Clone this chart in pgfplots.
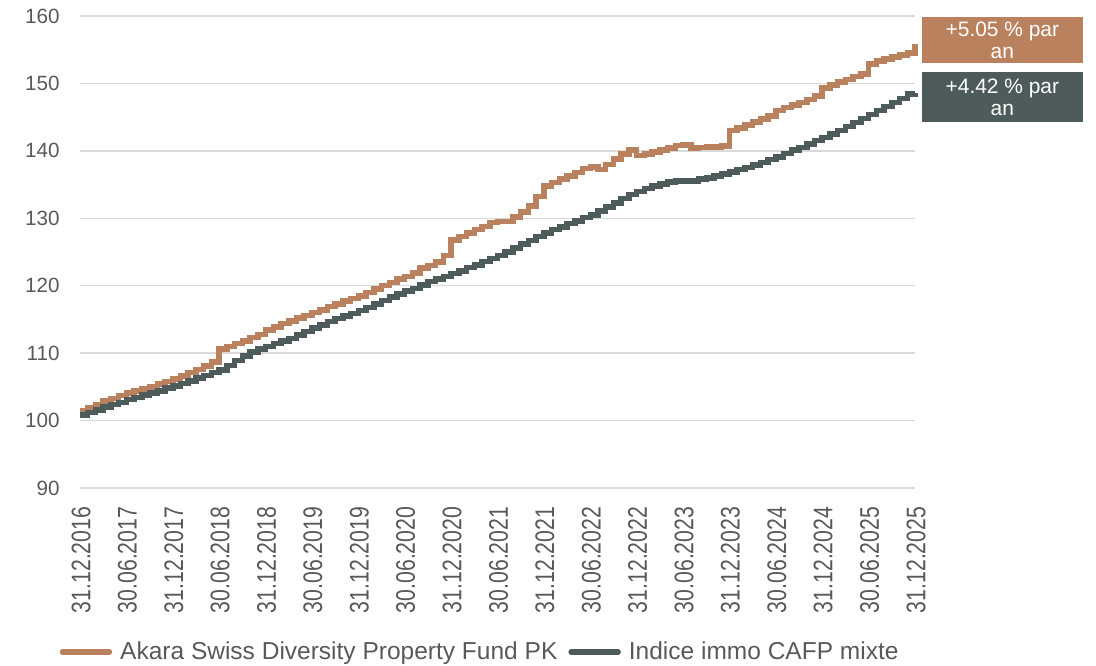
\documentclass[border=0pt]{standalone}
\usepackage{pgfplots}
\pgfplotsset{compat=1.18}
\usepackage{pgfplotstable}
\usepackage{fontspec}
\setmainfont{Liberation Sans}
\definecolor{fundc}{RGB}{186,129,95}
\definecolor{idxc}{RGB}{77,92,90}
\definecolor{txtc}{RGB}{89,89,89}
\definecolor{gridc}{RGB}{217,217,217}

\pgfplotstableread{
m v
0 101.4
1 101.9
2 102.4
3 102.9
4 103.3
5 103.7
6 104.1
7 104.4
8 104.7
9 105.0
10 105.4
11 105.8
12 106.2
13 106.6
14 107.1
15 107.6
16 108.1
17 108.7
18 110.6
19 111.0
20 111.4
21 111.8
22 112.3
23 112.8
24 113.4
25 113.9
26 114.4
27 114.8
28 115.2
29 115.6
30 116.0
31 116.4
32 116.9
33 117.3
34 117.7
35 118.1
36 118.5
37 119.0
38 119.5
39 120.0
40 120.5
41 121.0
42 121.4
43 121.9
44 122.6
45 123.0
46 123.5
47 124.5
48 126.8
49 127.3
50 127.8
51 128.3
52 128.8
53 129.4
54 129.5
55 129.5
56 130.2
57 130.9
58 131.8
59 133.2
60 134.8
61 135.3
62 135.8
63 136.3
64 136.8
65 137.4
66 137.6
67 137.2
68 138.0
69 138.8
70 139.5
71 140.1
72 139.3
73 139.5
74 139.8
75 140.1
76 140.4
77 140.8
78 140.9
79 140.4
80 140.5
81 140.6
82 140.6
83 140.7
84 143.0
85 143.4
86 143.8
87 144.3
88 144.7
89 145.2
90 146.0
91 146.4
92 146.8
93 147.2
94 147.6
95 148.1
96 149.3
97 149.8
98 150.2
99 150.6
100 151.0
101 151.4
102 152.9
103 153.3
104 153.6
105 153.9
106 154.2
107 154.5
108 154.6
108 155.9
}\fund

\pgfplotstableread{
m v
0 100.8
1 101.2
2 101.6
3 102.0
4 102.4
5 102.7
6 103.1
7 103.4
8 103.8
9 104.1
10 104.4
11 104.8
12 105.1
13 105.5
14 105.9
15 106.3
16 106.7
17 107.1
18 107.5
19 108.2
20 108.9
21 109.6
22 110.2
23 110.6
24 111.0
25 111.4
26 111.8
27 112.2
28 112.7
29 113.2
30 113.7
31 114.2
32 114.7
33 115.1
34 115.5
35 115.9
36 116.3
37 116.8
38 117.3
39 117.8
40 118.3
41 118.8
42 119.2
43 119.6
44 120.1
45 120.6
46 121.0
47 121.4
48 121.8
49 122.2
50 122.7
51 123.1
52 123.6
53 124.0
54 124.5
55 125.0
56 125.6
57 126.2
58 126.7
59 127.3
60 127.8
61 128.3
62 128.7
63 129.2
64 129.6
65 130.1
66 130.5
67 131.1
68 131.7
69 132.3
70 132.9
71 133.5
72 134.0
73 134.4
74 134.8
75 135.1
76 135.4
77 135.5
78 135.5
79 135.5
80 135.8
81 136.0
82 136.3
83 136.6
84 136.9
85 137.2
86 137.5
87 137.9
88 138.3
89 138.7
90 139.1
91 139.6
92 140.1
93 140.5
94 141.0
95 141.5
96 142.0
97 142.5
98 143.0
99 143.6
100 144.2
101 144.8
102 145.4
103 146.0
104 146.6
105 147.2
106 147.8
107 148.4
108 148.6
}\idx

\begin{document}
\begin{tikzpicture}
\begin{axis}[
  scale only axis,
  width=835bp, height=472bp,
  xmin=0, xmax=108, ymin=90, ymax=160,
  clip=false,
  axis line style={draw=none},
  major tick length=0pt,
  ytick={90,100,...,160},
  ymajorgrids,
  grid style={color=gridc, line width=1.5bp},
  xtick={0,6,...,108},
  xticklabels={31.12.2016,30.06.2017,31.12.2017,30.06.2018,31.12.2018,30.06.2019,31.12.2019,30.06.2020,31.12.2020,30.06.2021,31.12.2021,30.06.2022,31.12.2022,30.06.2023,31.12.2023,30.06.2024,31.12.2024,30.06.2025,31.12.2025},
  /pgf/number format/assume math mode=true,
  yticklabel style={font=\fontsize{20.7}{24}\selectfont, text=txtc, xshift=-17bp},
  xticklabel style={font=\fontsize{27}{30}\selectfont, text=txtc, xshift=1bp, yshift=-16bp, rotate=90, anchor=east, xscale=0.79},
  legend columns=2,
  legend style={draw=none, fill=none, at={(0.478,-0.347)}, anchor=center,
    font=\fontsize{24.6}{28}\selectfont, text=txtc,
    nodes={inner sep=0pt},
    /tikz/every odd column/.append style={column sep=8bp},
    /tikz/every even column/.append style={column sep=11bp},
    inner sep=0pt, cells={anchor=west}},
  legend image code/.code={\draw[#1, line cap=round] (0bp,0bp) -- (47bp,0bp);},
]
\addplot[const plot, color=fundc, line width=5.5bp] table[x=m, y=v] {\fund};
\addlegendentry{Akara Swiss Diversity Property Fund PK}
\addplot[const plot, color=idxc, line width=5.5bp] table[x=m, y=v] {\idx};
\addlegendentry{Indice immo CAFP mixte}

\node[fill=fundc, text=white, minimum width=161bp, minimum height=46bp, inner sep=0pt, align=center,
  font=\fontsize{21}{22}\selectfont] at (axis cs:119.3,156.44) {+5.05 \% par\\an};
\node[fill=idxc, text=white, minimum width=161bp, minimum height=50bp, inner sep=0pt, align=center,
  font=\fontsize{21}{22}\selectfont] at (axis cs:119.3,147.99) {+4.42 \% par\\an};

\coordinate (bl) at (rel axis cs:0,0);
\coordinate (tr) at (rel axis cs:1,1);
\end{axis}
\pgfresetboundingbox
\path ([shift={(-80bp,-178bp)}]bl) rectangle ([shift={(181bp,16bp)}]tr);
\end{tikzpicture}
\end{document}
